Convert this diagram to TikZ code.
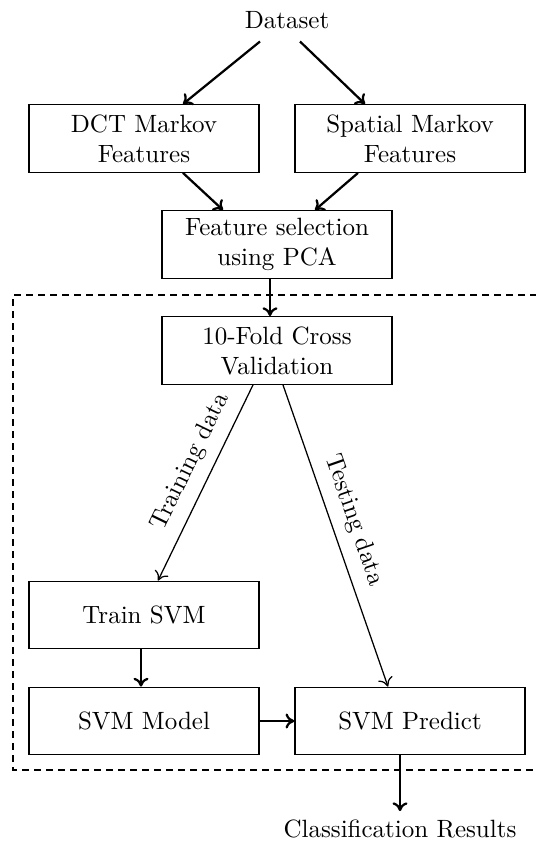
\documentclass[tikz,border=0pt]{standalone}
\usetikzlibrary{arrows.meta,calc}
\begin{document}
\begin{tikzpicture}[x=0.4pt,y=-0.4pt,
  box/.style={draw, line width=0.55pt, minimum width=92pt, minimum height=27pt, align=center, inner sep=2pt},
  thickarrow/.style={line width=0.9pt, -{To[length=3.5pt,width=6pt]}},
  thinarrow/.style={line width=0.5pt, -{To[length=3.5pt,width=6pt]}},
  plain/.style={inner sep=3.33pt}]
\useasboundingbox (0,0) rectangle (535,845);
\node[plain] (dataset) at (287,20) {Dataset};
\node[box] (dct) at (144,138.5) {DCT Markov\\Features};
\node[box] (spatial) at (410,138.5) {Spatial Markov\\Features};
\node[box] (fs) at (277,244.5) {Feature selection\\using PCA};
\node[box] (cv) at (277,350.5) {10-Fold Cross\\Validation};
\node[box] (train) at (144,615) {Train SVM};
\node[box] (model) at (144,721) {SVM Model};
\node[box] (predict) at (410,721) {SVM Predict};
\node[plain] (results) at (400,829) {Classification Results};
\draw[line width=0.55pt, dash pattern=on 2.8pt off 2pt] (537,295) -- (13,295) -- (13,770) -- (537,770);
\draw[thickarrow] ($(dataset.south)+(-27,4)$) -- ($(dct.north)+(39,0)$);
\draw[thickarrow] ($(dataset.south)+(13,4)$) -- ($(spatial.north)+(-45,0)$);
\draw[thickarrow] ($(dct.south)+(39,0)$) -- ($(fs.north)+(-54,0)$);
\draw[thickarrow] ($(spatial.south)+(-52,0)$) -- ($(fs.north)+(38,0)$);
\draw[thickarrow] ($(fs.south)+(-7,0)$) -- ($(cv.north)+(-7,0)$);
\draw[thinarrow, {To[length=3.5pt,width=6pt]}-] ($(train.north)+(14,0)$) -- node[pos=0.556, sloped, above=1pt] {Training data} ($(cv.south)+(-24,0)$);
\draw[thinarrow] ($(cv.south)+(6,0)$) -- node[pos=0.473, sloped, above=1pt] {Testing data} ($(predict.north)+(-22,0)$);
\draw[thickarrow] ($(train.south)+(-3,0)$) -- ($(model.north)+(-3,0)$);
\draw[thickarrow] (model.east) -- (predict.west);
\draw[thickarrow] ($(predict.south)+(-10,0)$) -- (results.north);
\end{tikzpicture}
\end{document}
